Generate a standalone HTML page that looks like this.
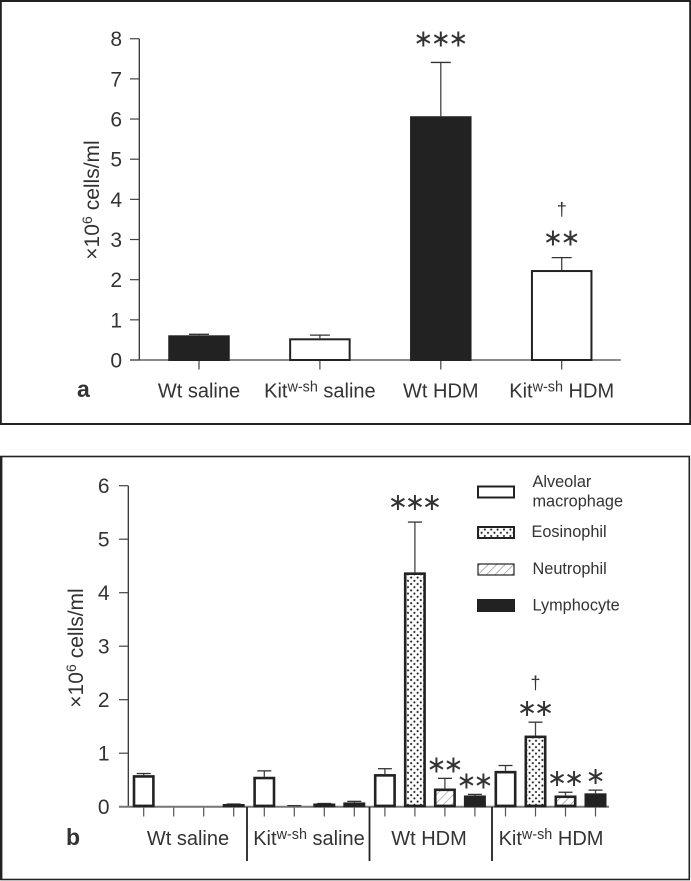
<!DOCTYPE html>
<html lang="en">
<head>
<meta charset="utf-8">
<title>Cell counts chart</title>
<style>
html,body{margin:0;padding:0;background:#fff;}
svg{display:block;}
text{font-family:"Liberation Sans",Arial,sans-serif;fill:#333;}
</style>
</head>
<body>
<svg id="chart" xmlns="http://www.w3.org/2000/svg" width="691" height="881" viewBox="0 0 691 881">
  <defs>
    <pattern id="dots" patternUnits="userSpaceOnUse" width="6.4" height="6.4">
      <rect width="6.4" height="6.4" fill="#fff"/>
      <circle cx="1.6" cy="1.6" r="1.05" fill="#222"/>
      <circle cx="4.8" cy="4.8" r="1.05" fill="#222"/>
    </pattern>
    <pattern id="hatch" patternUnits="userSpaceOnUse" width="6" height="6" patternTransform="rotate(45)">
      <rect width="6" height="6" fill="#fff"/>
      <line x1="0" y1="0" x2="0" y2="6" stroke="#999" stroke-width="1.4"/>
    </pattern>
  </defs>
</svg>
<script>
// Panel a data
const aCategories = ['Wt saline', 'Kit|w-sh|saline', 'Wt HDM', 'Kit|w-sh|HDM'];
const aValues = [0.615, 0.54, 6.07, 2.24];
const aErrors = [0.64, 0.62, 7.41, 2.55];
const aFilled = [true, false, true, false];
const aStars = ['', '', '∗∗∗', '∗∗'];
const aDaggers = ['', '', '', '†'];
const aTicks = ['0', '1', '2', '3', '4', '5', '6', '7', '8'];

// Panel b data
const bGroups = ['Wt saline', 'Kit|w-sh|saline', 'Wt HDM', 'Kit|w-sh|HDM'];
const bSeriesNames = ['Alveolar macrophage', 'Eosinophil', 'Neutrophil', 'Lymphocyte'];
const bMacrophage = [0.59, 0.56, 0.61, 0.67];
const bMacrophageErr = [0.62, 0.67, 0.71, 0.77];
const bEosinophil = [0, 0.02, 4.38, 1.33];
const bEosinophilErr = [0, 0.02, 5.32, 1.58];
const bNeutrophil = [0, 0.06, 0.34, 0.21];
const bNeutrophilErr = [0, 0.06, 0.53, 0.27];
const bLymphocyte = [0.05, 0.08, 0.21, 0.25];
const bLymphocyteErr = [0.05, 0.10, 0.23, 0.31];
const bStarsMacrophage = ['', '', '', ''];
const bStarsEosinophil = ['', '', '∗∗∗', '∗∗'];
const bStarsNeutrophil = ['', '', '∗∗', '∗∗'];
const bStarsLymphocyte = ['', '', '∗∗', '∗'];
const bDaggersEosinophil = ['', '', '', '†'];
const bTicks = ['0', '1', '2', '3', '4', '5', '6'];

const svg = document.getElementById('chart');
const NS = 'http://www.w3.org/2000/svg';
const INK = '#222';

function mk(tag, name, geometry, parent) {
  const el = document.createElementNS(NS, tag);
  
  
  for (const k in geometry) el.setAttribute(k, geometry[k]);
  (parent || svg).appendChild(el);
  return el;
}
function line(name, x1, y1, x2, y2, color, w, parent) {
  return mk('line', name, {x1: x1, y1: y1, x2: x2, y2: y2, stroke: color, 'stroke-width': w}, parent);
}
function txt(name, x, y, s, size, anchor, parent) {
  const t = mk('text', name, {x: x, y: y, 'font-size': size, 'text-anchor': anchor || 'middle'}, parent);
  t.textContent = s;
  return t;
}
function catLabel(name, cx, y, s, size, parent) {
  const t = mk('text', name, {x: cx, y: y, 'font-size': size, 'text-anchor': 'middle'}, parent);
  const p = s.split('|');
  if (p.length === 1) { t.textContent = s; return t; }
  t.appendChild(document.createTextNode(p[0]));
  const sup = document.createElementNS(NS, 'tspan');
  
  
  sup.setAttribute('font-size', size * 0.72);
  sup.setAttribute('dy', -6);
  sup.textContent = p[1];
  t.appendChild(sup);
  const rest = document.createElementNS(NS, 'tspan');
  
  
  rest.setAttribute('dy', 6);
  rest.textContent = ' ' + p[2];
  t.appendChild(rest);
  return t;
}
function stars(name, cx, cy, s, pitch, size, parent) {
  const n = s.length;
  for (let i = 0; i < n; i++) {
    const t = mk('text', name, {x: cx + (i - (n - 1) / 2) * pitch, y: cy + size * 0.29, 'font-size': size, 'text-anchor': 'middle'}, parent);
    t.setAttribute('style', 'font-family:"DejaVu Sans",sans-serif;fill:#333');
    t.textContent = s[i];
  }
}
function yLabel(name, x, y, size, parent) {
  const t = mk('text', name, {transform: 'translate(' + x + ',' + y + ') rotate(-90)', 'font-size': size, 'text-anchor': 'middle'}, parent);
  t.appendChild(document.createTextNode('×10'));
  const sup = document.createElementNS(NS, 'tspan');
  
  
  sup.setAttribute('font-size', size * 0.68);
  sup.setAttribute('dy', -7);
  sup.textContent = '6';
  t.appendChild(sup);
  const rest = document.createElementNS(NS, 'tspan');
  
  
  rest.setAttribute('dy', 7);
  rest.textContent = ' cells/ml';
  t.appendChild(rest);
}
function bar(name, cx, width, yTop, yBase, fill, sw, parent) {
  const inset = sw / 2;
  const h = Math.max(yBase - yTop - sw, 0.5);
  return mk('rect', name, {x: cx - width / 2 + inset, y: yTop + inset, width: width - sw, height: h, fill: fill, stroke: INK, 'stroke-width': sw}, parent);
}

/* ---------- Panel a ---------- */
const panelA = mk('g', 'panel-a', {});
mk('rect', 'panel-a-frame', {x: 0.8, y: 1, width: 689.4, height: 423, fill: 'none', stroke: '#222', 'stroke-width': 2}, panelA);
const ya = v => 360 - v * 40.16;
const xa = i => 199 + i * 120.9;

line('y-axis', 139.3, ya(8), 139.3, ya(0), '#333', 1.3, panelA);
aTicks.forEach(function (label) {
  const v = Number(label);
  line('y-tick', 130, ya(v), 139.3, ya(v), '#444', 1.2, panelA);
  txt('y-tick-label', 122, ya(v) + 7.5, label, 21, 'end', panelA);
});
line('x-axis', 130, ya(0), 620.7, ya(0), '#444', 1.3, panelA);
yLabel('y-axis-title', 99, 200, 21, panelA);
txt('panel-label-a', 77, 397, 'a', 23, 'start', panelA).setAttribute('font-weight', 'bold');

aCategories.forEach(function (cat, i) {
  const x = xa(i);
  line('x-tick', x, 360, x, 369.5, '#444', 1.2, panelA);
  catLabel('x-category-label', x, 397.5, cat, 20, panelA);
  line('error-bar-stem', x, ya(aValues[i]), x, ya(aErrors[i]), '#444', 1.3, panelA);
  line('error-bar-cap', x - 10, ya(aErrors[i]), x + 10, ya(aErrors[i]), '#333', 1.3, panelA);
  bar('bar', x, 61.5, ya(aValues[i]), 361, aFilled[i] ? INK : '#fff', 2, panelA);
  if (aStars[i]) {
    const gap = aStars[i].length === 3 ? 23 : 19;
    stars('significance-star', x, ya(aErrors[i]) - gap, aStars[i], 17.5, 24, panelA);
  }
  if (aDaggers[i]) {
    txt('dagger-mark', x, ya(aErrors[i]) - 42, aDaggers[i], 18, 'middle', panelA);
  }
});

/* ---------- Panel b ---------- */
const panelB = mk('g', 'panel-b', {});
mk('rect', 'panel-b-frame', {x: 1, y: 456.5, width: 688.3, height: 423, fill: 'none', stroke: '#222', 'stroke-width': 1.6}, panelB);
line('panel-b-left-edge', 1.2, 456, 1.2, 880, '#222', 2.4, panelB);
const yb = v => 806.7 - v * 53.5;
const xb = (g, s) => 143.7 + g * 120.6 + s * 30;
const xSep = g => 247 + g * 122.5;

line('y-axis', 128.3, yb(6), 128.3, yb(0), '#333', 1.3, panelB);
bTicks.forEach(function (label) {
  const v = Number(label);
  line('y-tick', 119, yb(v), 128.3, yb(v), '#444', 1.2, panelB);
  txt('y-tick-label', 109.5, yb(v) + 7.5, label, 21, 'end', panelB);
});
yLabel('y-axis-title', 83, 648, 21, panelB);
txt('panel-label-b', 66, 845, 'b', 23, 'start', panelB).setAttribute('font-weight', 'bold');

const bSeries = [
  {name: 'macrophage', vals: bMacrophage, errs: bMacrophageErr, fill: '#fff', marks: bStarsMacrophage},
  {name: 'eosinophil', vals: bEosinophil, errs: bEosinophilErr, fill: 'url(#dots)', marks: bStarsEosinophil},
  {name: 'neutrophil', vals: bNeutrophil, errs: bNeutrophilErr, fill: 'url(#hatch)', marks: bStarsNeutrophil},
  {name: 'lymphocyte', vals: bLymphocyte, errs: bLymphocyteErr, fill: INK, marks: bStarsLymphocyte}
];
bGroups.forEach(function (group, g) {
  bSeries.forEach(function (series, s) {
    line('x-tick', xb(g, s), 807, xb(g, s), 816.5, '#555', 1.2, panelB);
  });
});
line('x-axis', 119, yb(0), 609, yb(0), '#777', 2, panelB);

bGroups.forEach(function (group, g) {
  bSeries.forEach(function (series, s) {
    const v = series.vals[g];
    const e = series.errs[g];
    if (v <= 0) return;
    const x = xb(g, s);
    line('error-bar-stem', x, yb(v), x, yb(e), '#444', 1.3, panelB);
    line('error-bar-cap', x - 7, yb(e), x + 7, yb(e), '#333', 1.3, panelB);
    if (v > 0.03) {
      bar('bar-' + series.name, x, 22, yb(v), yb(0) + 0.5, series.fill, 2.6, panelB);
    }
    if (series.marks[g]) {
      const gap = series.marks[g].length === 3 ? 19 : 13;
      stars('significance-star', x, yb(e) - gap, series.marks[g], 17, 24, panelB);
    }
  });
  if (bDaggersEosinophil[g]) {
    txt('dagger-mark', xb(g, 1), yb(bEosinophilErr[g]) - 33, bDaggersEosinophil[g], 18, 'middle', panelB);
  }
});

const groupCenters = [188, 309, 429, 551];
bGroups.forEach(function (group, g) {
  catLabel('group-label', groupCenters[g], 845, group, 20, panelB);
});
[0, 1, 2].forEach(function (g) {
  line('group-separator', xSep(g), 807, xSep(g), 861, '#222', 1.8, panelB);
});

/* ---------- Legend ---------- */
const legend = mk('g', 'legend', {}, panelB);
const legendFills = ['#fff', 'url(#dots)', 'url(#hatch)', INK];
const legendRowTop = [486.5, 527, 564, 600];
legendFills.forEach(function (fill, i) {
  mk('rect', 'legend-swatch', {x: 478, y: legendRowTop[i], width: 36, height: 11, fill: fill, stroke: INK, 'stroke-width': i === 2 ? 1.2 : 2}, legend);
});
txt('legend-label', 532.5, 487, 'Alveolar', 16.3, 'start', legend);
txt('legend-label', 532.5, 506.5, 'macrophage', 16.3, 'start', legend);
txt('legend-label', 531.5, 537, bSeriesNames[1], 16.3, 'start', legend);
txt('legend-label', 532.5, 574, bSeriesNames[2], 16.3, 'start', legend);
txt('legend-label', 532.5, 610.5, bSeriesNames[3], 16.3, 'start', legend);
</script>
</body>
</html>
